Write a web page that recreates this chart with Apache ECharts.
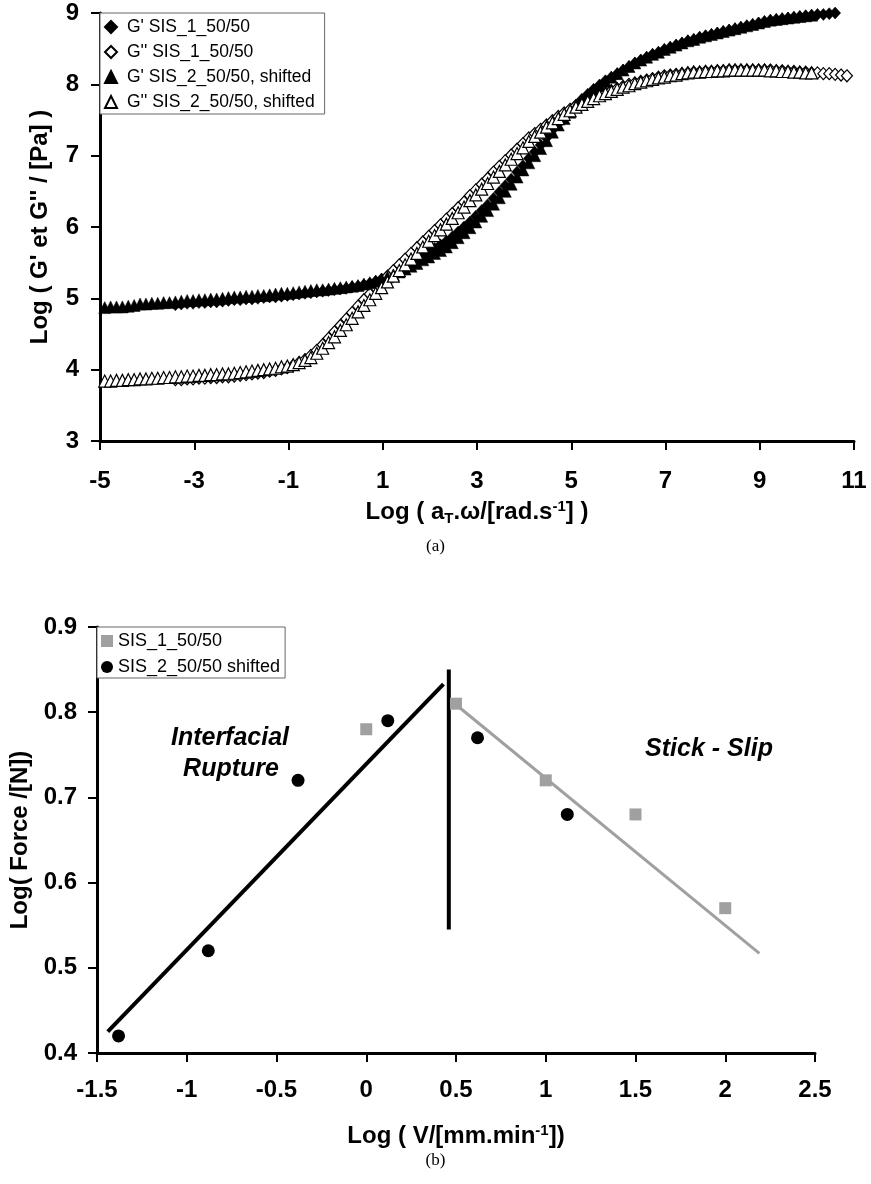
<!DOCTYPE html>
<html>
<head>
<meta charset="utf-8">
<script src="https://cdn.jsdelivr.net/npm/echarts@6/dist/echarts.min.js"></script>
<style>
html,body{margin:0;padding:0;background:#fff;}
#chart{width:871px;height:1184px;}
</style>
</head>
<body>
<div id="chart"></div>
<script>
// ---------- (a) master curves ----------
var xSIS1 = [-3.4,-3.275,-3.15,-3.025,-2.9,-2.775,-2.65,-2.525,-2.4,-2.275,-2.15,-2.025,-1.9,-1.775,-1.65,-1.525,-1.4,-1.275,-1.15,-1.025,-0.9,-0.775,-0.65,-0.525,-0.4,-0.275,-0.15,-0.025,0.1,0.225,0.35,0.475,0.6,0.725,0.85,0.975,1.1,1.225,1.35,1.475,1.6,1.725,1.85,1.975,2.1,2.225,2.35,2.475,2.6,2.725,2.85,2.975,3.1,3.225,3.35,3.475,3.6,3.725,3.85,3.975,4.1,4.225,4.35,4.475,4.6,4.725,4.85,4.975,5.1,5.225,5.35,5.475,5.6,5.725,5.85,5.975,6.1,6.225,6.35,6.475,6.6,6.725,6.85,6.975,7.1,7.225,7.35,7.475,7.6,7.725,7.85,7.975,8.1,8.225,8.35,8.475,8.6,8.725,8.85,8.975,9.1,9.225,9.35,9.475,9.6,9.725,9.85,9.975,10.1,10.225,10.35,10.475,10.6,10.725,10.85];
var gp1 = [4.91,4.92,4.93,4.93,4.94,4.94,4.95,4.95,4.96,4.97,
  4.98,4.98,4.99,4.99,5.0,5.01,5.02,5.02,5.03,5.04,
  5.05,5.06,5.07,5.08,5.09,5.1,5.11,5.12,5.13,5.14,
  5.16,5.17,5.19,5.21,5.24,5.27,5.31,5.35,5.4,5.45,
  5.5,5.55,5.6,5.65,5.7,5.75,5.8,5.86,5.93,6.0,
  6.07,6.15,6.23,6.31,6.4,6.49,6.58,6.67,6.77,6.86,
  6.96,7.05,7.15,7.25,7.36,7.45,7.54,7.63,7.71,7.79,
  7.86,7.93,7.99,8.05,8.1,8.15,8.2,8.25,8.3,8.34,
  8.38,8.42,8.45,8.49,8.52,8.55,8.58,8.61,8.63,8.66,
  8.68,8.7,8.72,8.74,8.76,8.78,8.8,8.82,8.84,8.86,
  8.88,8.9,8.91,8.92,8.93,8.94,8.95,8.96,8.97,8.98,
  8.98,8.99,9.0];
var gpp1 = [3.86,3.86,3.87,3.87,3.88,3.88,3.89,3.89,3.9,3.9,
  3.91,3.92,3.93,3.94,3.95,3.96,3.98,3.99,4.01,4.03,
  4.06,4.1,4.14,4.2,4.27,4.35,4.44,4.53,4.62,4.71,
  4.8,4.89,4.98,5.06,5.15,5.23,5.31,5.39,5.47,5.55,
  5.63,5.71,5.79,5.87,5.95,6.03,6.11,6.19,6.27,6.35,
  6.44,6.52,6.6,6.68,6.77,6.85,6.93,7.01,7.09,7.17,
  7.25,7.31,7.37,7.43,7.49,7.55,7.6,7.65,7.7,7.74,
  7.78,7.82,7.85,7.88,7.91,7.94,7.97,8.0,8.02,8.04,
  8.06,8.08,8.1,8.12,8.13,8.14,8.15,8.16,8.17,8.17,
  8.18,8.18,8.19,8.19,8.2,8.2,8.2,8.2,8.2,8.2,
  8.2,8.2,8.19,8.19,8.18,8.18,8.17,8.17,8.16,8.16,
  8.15,8.15,8.14,8.13,8.12];
var xSIS2 = [-4.9,-4.775,-4.65,-4.525,-4.4,-4.275,-4.15,-4.025,-3.9,-3.775,-3.65,-3.525,-3.4,-3.275,-3.15,-3.025,-2.9,-2.775,-2.65,-2.525,-2.4,-2.275,-2.15,-2.025,-1.9,-1.775,-1.65,-1.525,-1.4,-1.275,-1.15,-1.025,-0.9,-0.775,-0.65,-0.525,-0.4,-0.275,-0.15,-0.025,0.1,0.225,0.35,0.475,0.6,0.725,0.85,0.975,1.1,1.225,1.35,1.475,1.6,1.725,1.85,1.975,2.1,2.225,2.35,2.475,2.6,2.725,2.85,2.975,3.1,3.225,3.35,3.475,3.6,3.725,3.85,3.975,4.1,4.225,4.35,4.475,4.6,4.725,4.85,4.975,5.1,5.225,5.35,5.475,5.6,5.725,5.85,5.975,6.1,6.225,6.35,6.475,6.6,6.725,6.85,6.975,7.1,7.225,7.35,7.475,7.6,7.725,7.85,7.975,8.1,8.225,8.35,8.475,8.6,8.725,8.85,8.975,9.1,9.225,9.35,9.475,9.6,9.725,9.85,9.975,10.1];
var gp2 = [4.87,4.88,4.88,4.88,4.89,4.9,4.92,4.92,4.93,4.93,
  4.94,4.94,4.95,4.96,4.97,4.97,4.98,4.98,4.99,4.99,
  5.0,5.01,5.02,5.02,5.03,5.03,5.04,5.04,5.05,5.06,
  5.07,5.07,5.08,5.09,5.1,5.11,5.12,5.12,5.13,5.14,
  5.15,5.16,5.17,5.18,5.2,5.22,5.24,5.27,5.3,5.33,
  5.37,5.41,5.45,5.49,5.54,5.58,5.63,5.67,5.72,5.78,
  5.85,5.92,5.99,6.07,6.15,6.23,6.32,6.41,6.5,6.6,
  6.7,6.8,6.9,7.0,7.1,7.21,7.33,7.43,7.52,7.61,
  7.7,7.78,7.85,7.92,7.98,8.04,8.1,8.15,8.2,8.25,
  8.3,8.34,8.38,8.42,8.45,8.49,8.52,8.55,8.58,8.61,
  8.63,8.66,8.68,8.7,8.72,8.74,8.76,8.78,8.8,8.82,
  8.84,8.86,8.88,8.9,8.91,8.92,8.93,8.94,8.95,8.96,8.97];
var gpp2 = [3.84,3.84,3.85,3.85,3.86,3.86,3.87,3.87,3.88,3.88,
  3.89,3.89,3.9,3.9,3.91,3.91,3.92,3.92,3.93,3.93,
  3.94,3.94,3.95,3.96,3.97,3.98,3.99,4.0,4.01,4.02,
  4.04,4.05,4.07,4.1,4.13,4.17,4.23,4.3,4.38,4.46,
  4.55,4.63,4.72,4.81,4.9,4.98,5.07,5.15,5.23,5.31,
  5.39,5.47,5.55,5.63,5.72,5.8,5.88,5.96,6.04,6.12,
  6.2,6.28,6.37,6.45,6.53,6.61,6.7,6.78,6.87,6.95,
  7.03,7.11,7.2,7.27,7.33,7.4,7.46,7.52,7.58,7.63,
  7.68,7.72,7.76,7.8,7.84,7.87,7.9,7.93,7.96,7.98,
  8.01,8.03,8.05,8.07,8.09,8.1,8.12,8.13,8.15,8.16,
  8.17,8.17,8.18,8.18,8.19,8.19,8.2,8.2,8.2,8.2,
  8.2,8.2,8.2,8.19,8.19,8.18,8.18,8.17,8.17,8.16,8.16];

// ---------- (b) force vs velocity ----------
var vSIS1 = [0, 0.5, 1, 1.5, 2];
var fSIS1 = [0.78, 0.81, 0.72, 0.68, 0.57];
var vSIS2 = [-1.38, -0.88, -0.38, 0.12, 0.62, 1.12];
var fSIS2 = [0.42, 0.52, 0.72, 0.79, 0.77, 0.68];
var ruptureFitX = [-1.44, 0.43];
var ruptureFitY = [0.425, 0.833];
var boundaryX = [0.46, 0.46];
var boundaryY = [0.85, 0.545];
var slipFitX = [0.47, 2.19];
var slipFitY = [0.814, 0.517];

function zip(xs, ys){ return ys.map(function(y,i){ return [xs[i], y]; }); }

var FONT = 'Liberation Sans';
var GRAY = '#a0a0a0';

function axisCommon(margin){
  return {
    axisLine:{show:true, onZero:false, lineStyle:{color:'#000', width:3}},
    axisTick:{show:true, inside:false, length:9, lineStyle:{color:'#000', width:2}},
    splitLine:{show:false},
    axisLabel:{color:'#000', fontSize:24, fontWeight:'bold', fontFamily:FONT, margin:margin}
  };
}
function merge(a,b){ for (var k in b) a[k]=b[k]; return a; }

var richCommon = {
  sub:{fontSize:15, fontWeight:'bold', fontFamily:FONT, color:'#000', padding:[12,0,0,0]},
  sup:{fontSize:15, fontWeight:'bold', fontFamily:FONT, color:'#000', padding:[0,0,12,0]}
};
var nameStyle = {color:'#000', fontSize:24, fontWeight:'bold', fontFamily:FONT, rich:richCommon};

var chart = echarts.init(document.getElementById('chart'), null, {renderer:'canvas'});
var option = {
  animation:false,
  backgroundColor:'#fff',
  grid:[
    {left:100, top:13, width:754, height:428},
    {left:97, top:627, width:718, height:426}
  ],
  xAxis:[
    merge(axisCommon(28), {gridIndex:0, type:'value', min:-5, max:11, interval:2,
      name:'Log ( a{sub|T}.ω/[rad.s{sup|-1}] )', nameLocation:'middle', nameGap:58, nameTextStyle:nameStyle}),
    merge(axisCommon(25), {gridIndex:1, type:'value', min:-1.5, max:2.5, interval:0.5,
      name:'Log ( V/[mm.min{sup|-1}])', nameLocation:'middle', nameGap:70, nameTextStyle:nameStyle})
  ],
  yAxis:[
    merge(axisCommon(21), {gridIndex:0, type:'value', min:3, max:9, interval:1,
      name:'Log ( G\' et G\'\' / [Pa] )', nameLocation:'middle', nameGap:48, nameTextStyle:nameStyle}),
    merge(axisCommon(20), {gridIndex:1, type:'value', min:0.4, max:0.9, interval:0.1,
      name:'Log( Force /[N])', nameLocation:'middle', nameGap:65, nameTextStyle:nameStyle})
  ],
  legend:[
    {
      data:['G\' SIS_1_50/50','G\'\' SIS_1_50/50','G\' SIS_2_50/50, shifted','G\'\' SIS_2_50/50, shifted'],
      orient:'vertical', left:100, top:13,
      padding:[4,10,2,4], itemGap:5, itemWidth:12, itemHeight:12,
      backgroundColor:'#fff', borderColor:'#666', borderWidth:1, borderRadius:0,
      textStyle:{color:'#000', fontSize:17.5, fontFamily:FONT, lineHeight:20, padding:[0,0,0,5]},
      selectedMode:false
    },
    {
      data:['SIS_1_50/50','SIS_2_50/50 shifted'],
      orient:'vertical', left:97, top:627,
      padding:[4,5,1,4], itemGap:6, itemWidth:12, itemHeight:12,
      backgroundColor:'#fff', borderColor:'#666', borderWidth:1, borderRadius:0,
      textStyle:{color:'#000', fontSize:18, fontFamily:FONT, lineHeight:20},
      selectedMode:false
    }
  ],
  series:[
    {name:'G\' SIS_1_50/50', type:'scatter', xAxisIndex:0, yAxisIndex:0, symbol:'diamond', symbolSize:[11,12],
      itemStyle:{color:'#000', borderColor:'#000', borderWidth:0.5, opacity:1}, data:zip(xSIS1, gp1)},
    {name:'G\'\' SIS_1_50/50', type:'scatter', xAxisIndex:0, yAxisIndex:0, symbol:'diamond', symbolSize:[11,12],
      itemStyle:{color:'#fff', borderColor:'#000', borderWidth:1.2, opacity:1}, data:zip(xSIS1, gpp1)},
    {name:'G\' SIS_2_50/50, shifted', type:'scatter', xAxisIndex:0, yAxisIndex:0, symbol:'triangle', symbolSize:[12,12],
      itemStyle:{color:'#000', borderColor:'#000', borderWidth:0.5, opacity:1}, data:zip(xSIS2, gp2)},
    {name:'G\'\' SIS_2_50/50, shifted', type:'scatter', xAxisIndex:0, yAxisIndex:0, symbol:'triangle', symbolSize:[12,12],
      itemStyle:{color:'#fff', borderColor:'#000', borderWidth:1.2, opacity:1}, data:zip(xSIS2, gpp2)},

    {name:'ruptureFit', type:'line', xAxisIndex:1, yAxisIndex:1, symbol:'none', silent:true,
      lineStyle:{color:'#000', width:4}, data:zip(ruptureFitX, ruptureFitY), z:1},
    {name:'boundary', type:'line', xAxisIndex:1, yAxisIndex:1, symbol:'none', silent:true,
      lineStyle:{color:'#000', width:4}, data:zip(boundaryX, boundaryY), z:1},
    {name:'slipFit', type:'line', xAxisIndex:1, yAxisIndex:1, symbol:'none', silent:true,
      lineStyle:{color:GRAY, width:3}, data:zip(slipFitX, slipFitY), z:1},
    {name:'SIS_1_50/50', type:'scatter', xAxisIndex:1, yAxisIndex:1, symbol:'rect', symbolSize:12,
      itemStyle:{color:GRAY, opacity:1}, data:zip(vSIS1, fSIS1), z:3},
    {name:'SIS_2_50/50 shifted', type:'scatter', xAxisIndex:1, yAxisIndex:1, symbol:'circle', symbolSize:13,
      itemStyle:{color:'#000', opacity:1}, data:zip(vSIS2, fSIS2), z:3}
  ],
  graphic:[
    {type:'text', left:'center', top:538, style:{text:'(a)', fontSize:17, fontFamily:'Liberation Serif', fill:'#000'}},
    {type:'text', left:'center', top:1152, style:{text:'(b)', fontSize:17, fontFamily:'Liberation Serif', fill:'#000'}},
    {type:'text', x:230, y:738, style:{text:'Interfacial', fontSize:25, fontWeight:'bold', fontStyle:'italic', fontFamily:FONT, fill:'#000', align:'center', verticalAlign:'middle'}},
    {type:'text', x:231, y:769, style:{text:'Rupture', fontSize:25, fontWeight:'bold', fontStyle:'italic', fontFamily:FONT, fill:'#000', align:'center', verticalAlign:'middle'}},
    {type:'text', x:709, y:749, style:{text:'Stick - Slip', fontSize:25, fontWeight:'bold', fontStyle:'italic', fontFamily:FONT, fill:'#000', align:'center', verticalAlign:'middle'}}
  ]
};
chart.setOption(option);
</script>
</body>
</html>
